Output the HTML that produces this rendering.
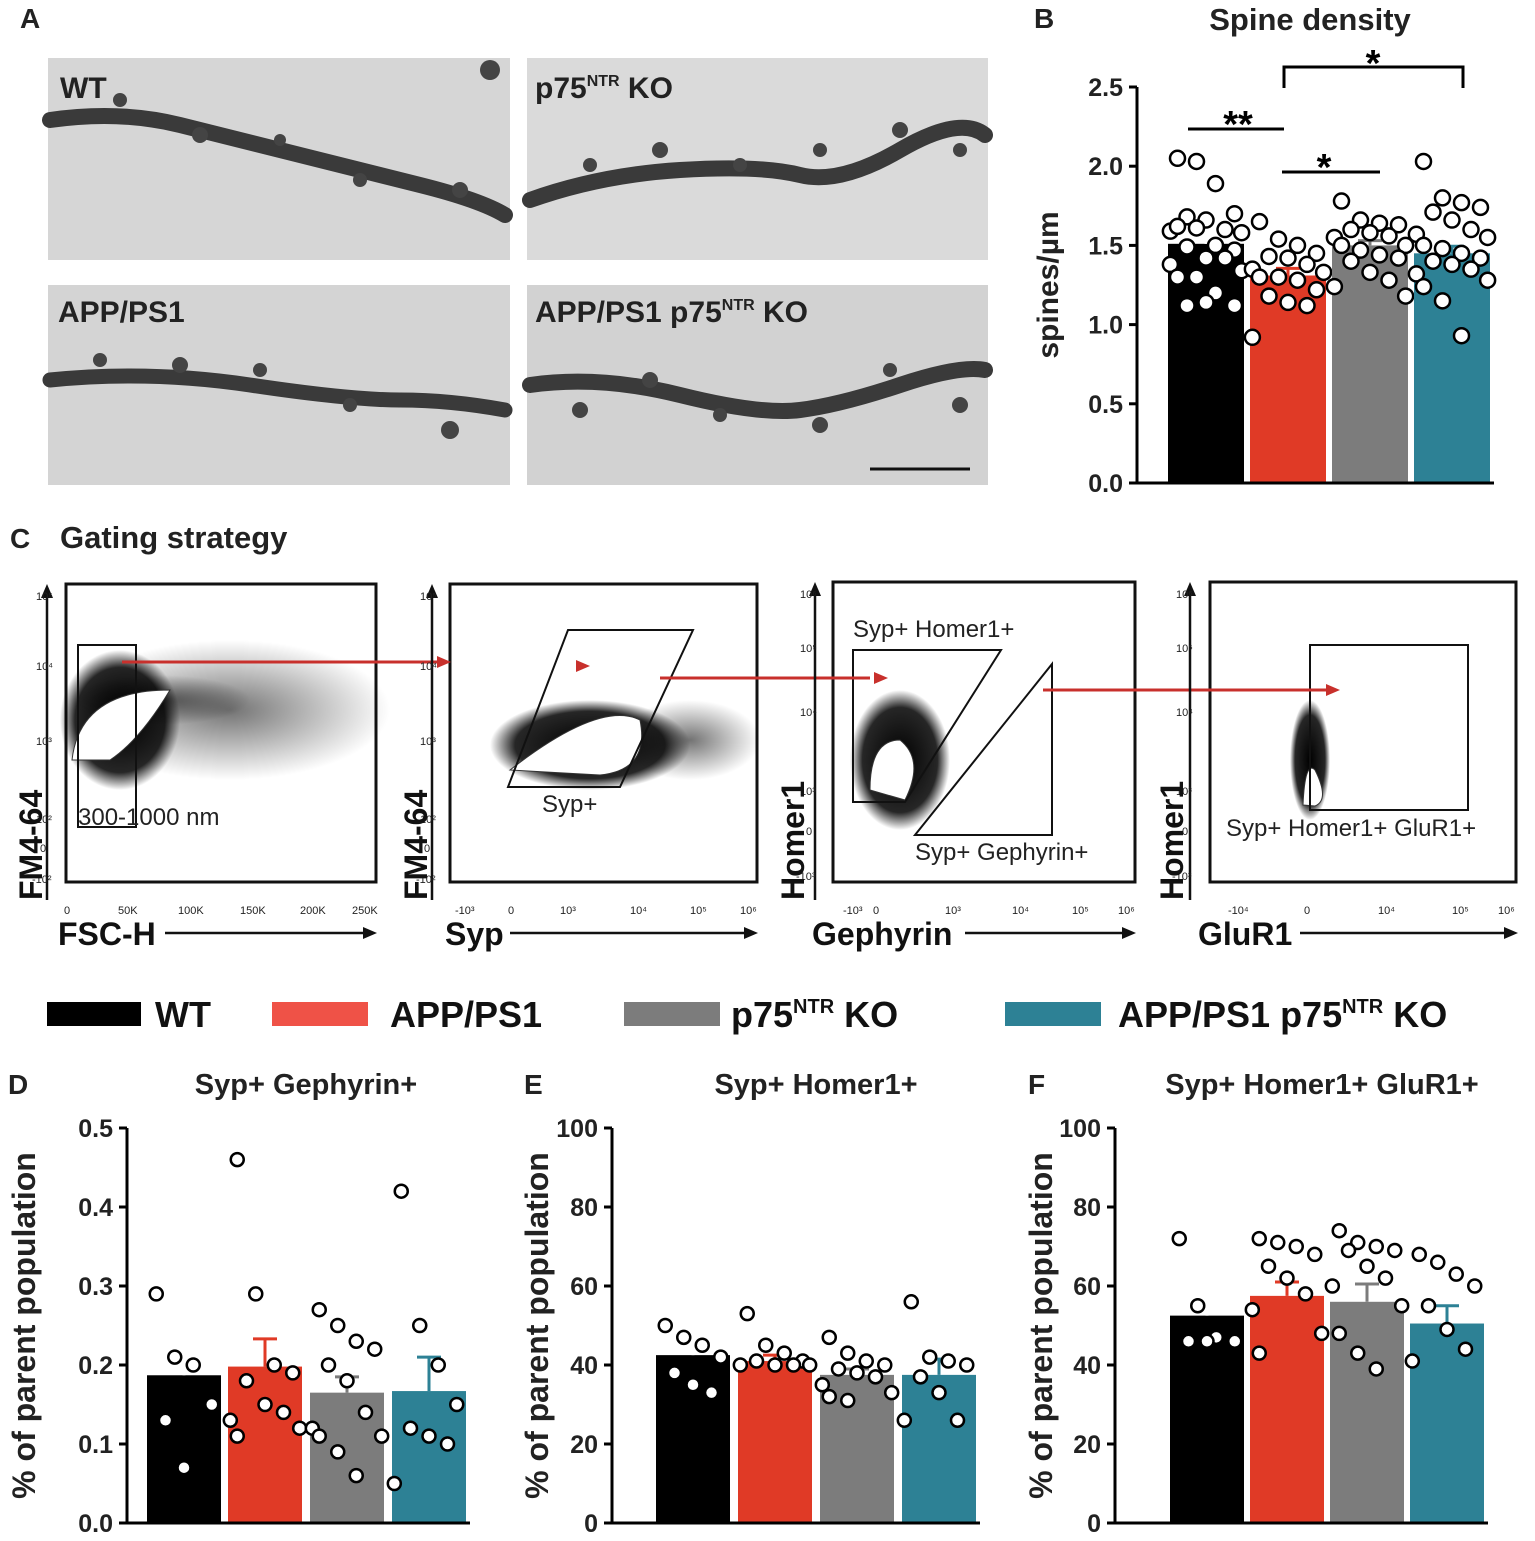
<!DOCTYPE html>
<html><head><meta charset="utf-8"><style>
body{margin:0;background:#fff;}
svg{display:block;font-family:"Liberation Sans",Arial,sans-serif;}
</style></head><body>
<svg id="fig" width="1535" height="1541" viewBox="0 0 1535 1541" xmlns="http://www.w3.org/2000/svg">
<defs>
<radialGradient id="blob"><stop offset="0" stop-color="#000" stop-opacity="1"/><stop offset="0.75" stop-color="#000" stop-opacity="0.85"/><stop offset="1" stop-color="#000" stop-opacity="0"/></radialGradient>
<radialGradient id="blobL"><stop offset="0" stop-color="#000" stop-opacity="0.55"/><stop offset="1" stop-color="#000" stop-opacity="0"/></radialGradient>
</defs>
<g font-weight="bold" font-size="28" fill="#222">
<text x="20" y="28">A</text>
<text x="1034" y="28">B</text>
<text x="10" y="548">C</text>
<text x="8" y="1094">D</text>
<text x="524" y="1094">E</text>
<text x="1028" y="1094">F</text>
</g>
<text x="60" y="548" font-size="31" font-weight="bold" fill="#222">Gating strategy</text>

<g>
<rect x="48" y="58" width="462" height="202" fill="#d6d6d6"/>
<rect x="527" y="58" width="461" height="202" fill="#dadada"/>
<rect x="48" y="285" width="462" height="200" fill="#d4d4d4"/>
<rect x="527" y="285" width="461" height="200" fill="#d2d2d2"/>
<g fill="none" stroke="#3a3a3a" stroke-linecap="round">
<path d="M50 120 Q120 110 180 125 T300 155 T420 185 T505 215" stroke-width="16"/>
<path d="M530 200 Q600 175 680 170 T800 175 T900 150 T985 135" stroke-width="16"/>
<path d="M50 380 Q150 370 250 385 T400 400 T505 410" stroke-width="15"/>
<path d="M530 385 Q600 375 680 395 T800 410 T900 385 T985 370" stroke-width="16"/>
</g>
<g fill="#444">
<circle cx="120" cy="100" r="7"/><circle cx="200" cy="135" r="8"/><circle cx="280" cy="140" r="6"/><circle cx="360" cy="180" r="7"/><circle cx="460" cy="190" r="8"/><circle cx="490" cy="70" r="10"/>
<circle cx="590" cy="165" r="7"/><circle cx="660" cy="150" r="8"/><circle cx="740" cy="165" r="7"/><circle cx="820" cy="150" r="7"/><circle cx="900" cy="130" r="8"/><circle cx="960" cy="150" r="7"/>
<circle cx="100" cy="360" r="7"/><circle cx="180" cy="365" r="8"/><circle cx="260" cy="370" r="7"/><circle cx="350" cy="405" r="7"/><circle cx="450" cy="430" r="9"/>
<circle cx="580" cy="410" r="8"/><circle cx="650" cy="380" r="8"/><circle cx="720" cy="415" r="7"/><circle cx="820" cy="425" r="8"/><circle cx="890" cy="370" r="7"/><circle cx="960" cy="405" r="8"/>
</g>
<g font-size="30" font-weight="bold" fill="#222">
<text x="60" y="98">WT</text>
<text x="535" y="98">p75<tspan font-size="16" dy="-12">NTR</tspan><tspan dy="12"> KO</tspan></text>
<text x="58" y="322">APP/PS1</text>
<text x="535" y="322">APP/PS1 p75<tspan font-size="16" dy="-12">NTR</tspan><tspan dy="12"> KO</tspan></text>
</g>
<line x1="870" y1="469" x2="970" y2="469" stroke="#111" stroke-width="3"/>
</g>

<g id="flow" fill="none" stroke="#111">
<rect x="66" y="584" width="310" height="298" stroke-width="3"/>
<rect x="450" y="584" width="307" height="298" stroke-width="3"/>
<rect x="833" y="582" width="302" height="300" stroke-width="3"/>
<rect x="1210" y="582" width="306" height="300" stroke-width="3"/>
<g stroke="none">
<ellipse cx="230" cy="710" rx="160" ry="70" fill="url(#blobL)"/>
<ellipse cx="120" cy="720" rx="60" ry="70" fill="url(#blob)"/>
<ellipse cx="160" cy="700" rx="90" ry="25" fill="url(#blobL)"/>
<ellipse cx="590" cy="745" rx="100" ry="45" fill="url(#blob)"/>
<ellipse cx="690" cy="740" rx="70" ry="40" fill="url(#blobL)"/>
<ellipse cx="900" cy="760" rx="50" ry="70" fill="url(#blob)"/>
<ellipse cx="1310" cy="760" rx="20" ry="60" fill="url(#blob)"/>
</g>
<g fill="#fff" stroke="#333" stroke-width="1">
<path d="M72 760 Q80 690 170 690 Q140 740 110 760 Z"/>
<path d="M510 770 Q600 700 640 720 Q650 770 600 775 Z"/>
<path d="M870 790 Q870 740 900 740 Q925 760 905 800 Z"/>
<path d="M1303 805 Q1305 760 1315 770 Q1330 800 1315 806 Z"/>
</g>
<path d="M78 645 H136 V827 H78 Z" stroke-width="2"/>
<path d="M568 630 L693 630 L620 787 L508 787 Z" stroke-width="2"/>
<path d="M853 650 L1001 650 L905 802 L853 802 Z" stroke-width="2"/>
<path d="M915 835 L1052 664 L1052 835 Z" stroke-width="2"/>
<rect x="1310" y="645" width="158" height="165" stroke-width="2"/>
<g stroke="#c8302c" stroke-width="3">
<path d="M122 662 H440"/><path d="M660 678 H870"/><path d="M1043 690 H1330"/>
</g>
<g fill="#c8302c" stroke="none">
<path d="M451 662 l-14 -6 v12 z"/><path d="M590 666 l-14 -6 v12 z"/><path d="M888 678 l-14 -6 v12 z"/><path d="M1340 690 l-14 -6 v12 z"/>
</g>
<g stroke-width="2.5">
<path d="M47 900 V592"/><path d="M432 900 V592"/><path d="M815 900 V590"/><path d="M1190 900 V590"/>
<path d="M165 933 H370"/><path d="M510 933 H750"/><path d="M965 933 H1128"/><path d="M1300 933 H1510"/>
</g>
<g fill="#111" stroke="none">
<path d="M47 584 l-6 14 h12 z"/><path d="M432 584 l-6 14 h12 z"/><path d="M815 582 l-6 14 h12 z"/><path d="M1190 582 l-6 14 h12 z"/>
<path d="M377 933 l-14 -6 v12 z"/><path d="M758 933 l-14 -6 v12 z"/><path d="M1136 933 l-14 -6 v12 z"/><path d="M1518 933 l-14 -6 v12 z"/>
</g>
<g fill="#222" stroke="none" font-size="24">
<text x="78" y="825">300-1000 nm</text>
<text x="542" y="812">Syp+</text>
<text x="853" y="637">Syp+ Homer1+</text>
<text x="915" y="860">Syp+ Gephyrin+</text>
<text x="1226" y="836">Syp+ Homer1+ GluR1+</text>
</g>
<g fill="#222" stroke="none" font-size="11">
<text x="64" y="914">0</text><text x="118" y="914">50K</text><text x="178" y="914">100K</text><text x="240" y="914">150K</text><text x="300" y="914">200K</text><text x="352" y="914">250K</text>
<text x="36" y="600">10⁵</text><text x="36" y="670">10⁴</text><text x="36" y="745">10³</text><text x="36" y="823">10²</text><text x="40" y="852">0</text><text x="32" y="883">-10²</text>
<text x="420" y="600">10⁵</text><text x="420" y="670">10⁴</text><text x="420" y="745">10³</text><text x="420" y="823">10²</text><text x="424" y="852">0</text><text x="416" y="883">-10²</text>
<text x="455" y="914">-10³</text><text x="508" y="914">0</text><text x="560" y="914">10³</text><text x="630" y="914">10⁴</text><text x="690" y="914">10⁵</text><text x="740" y="914">10⁶</text>
<text x="800" y="598">10⁶</text><text x="800" y="652">10⁵</text><text x="800" y="716">10⁴</text><text x="800" y="795">10³</text><text x="806" y="835">0</text><text x="796" y="880">-10³</text>
<text x="843" y="914">-10³</text><text x="873" y="914">0</text><text x="945" y="914">10³</text><text x="1012" y="914">10⁴</text><text x="1072" y="914">10⁵</text><text x="1118" y="914">10⁶</text>
<text x="1176" y="598">10⁶</text><text x="1176" y="652">10⁵</text><text x="1176" y="716">10⁴</text><text x="1176" y="795">10³</text><text x="1182" y="835">0</text><text x="1172" y="880">-10³</text>
<text x="1228" y="914">-10⁴</text><text x="1304" y="914">0</text><text x="1378" y="914">10⁴</text><text x="1452" y="914">10⁵</text><text x="1498" y="914">10⁶</text>
</g>
<g fill="#111" stroke="none" font-size="32" font-weight="bold">
<text x="58" y="945">FSC-H</text><text x="445" y="945">Syp</text><text x="812" y="945">Gephyrin</text><text x="1198" y="945">GluR1</text>
<text transform="translate(42,900) rotate(-90)">FM4-64</text>
<text transform="translate(427,900) rotate(-90)">FM4-64</text>
<text transform="translate(804,900) rotate(-90)">Homer1</text>
<text transform="translate(1183,900) rotate(-90)">Homer1</text>
</g>
</g>

<g font-size="36" font-weight="bold" fill="#111">
<rect x="47" y="1002" width="94" height="24" fill="#000"/>
<text x="155" y="1027">WT</text>
<rect x="272" y="1002" width="96" height="24" fill="#ef5247"/>
<text x="390" y="1027">APP/PS1</text>
<rect x="624" y="1002" width="96" height="24" fill="#7c7c7c"/>
<text x="731" y="1027">p75<tspan font-size="20" dy="-14">NTR</tspan><tspan dy="14"> KO</tspan></text>
<rect x="1005" y="1002" width="96" height="24" fill="#2d8195"/>
<text x="1118" y="1027">APP/PS1 p75<tspan font-size="20" dy="-14">NTR</tspan><tspan dy="14"> KO</tspan></text>
</g>
<g id="charts"></g>
</svg>
<script>
// Panel B data
const bTicks=["0.0","0.5","1.0","1.5","2.0","2.5"];
const bMeans=[1.51,1.31,1.50,1.45];
const bErr=[0.04,0.045,0.03,0.045];
const bPtsWT=[2.05,2.03,1.89,1.70,1.68,1.66,1.60,1.59,1.58,1.62,1.61,1.50,1.47,1.49,1.42,1.42,1.38,1.34,1.30,1.30,1.20,1.12,1.12,1.14];
const bPtsAPP=[1.65,1.54,1.50,1.45,1.43,1.42,1.38,1.35,1.33,1.30,1.30,1.28,1.22,1.18,1.14,1.12,0.92];
const bPtsP75=[1.78,1.66,1.64,1.63,1.60,1.58,1.56,1.55,1.50,1.50,1.47,1.44,1.42,1.40,1.33,1.28,1.24,1.18];
const bPtsDK=[2.03,1.80,1.77,1.74,1.71,1.66,1.60,1.57,1.55,1.50,1.48,1.45,1.42,1.40,1.38,1.35,1.32,1.28,1.24,1.15,0.93];
// Panel D
const dTicks=["0.0","0.1","0.2","0.3","0.4","0.5"];
const dMeans=[0.187,0.198,0.165,0.167];
const dErr=[0.025,0.035,0.02,0.043];
const dPtsWT=[0.29,0.21,0.20,0.15,0.13,0.07];
const dPtsAPP=[0.46,0.29,0.20,0.19,0.18,0.15,0.14,0.13,0.12,0.11];
const dPtsP75=[0.27,0.25,0.23,0.22,0.20,0.18,0.14,0.12,0.11,0.11,0.09,0.06];
const dPtsDK=[0.42,0.25,0.20,0.15,0.12,0.11,0.10,0.05];
// Panel E
const eTicks=["0","20","40","60","80","100"];
const eMeans=[42.5,41,37.5,37.5];
const eErr=[2.5,1.5,1.5,4];
const ePtsWT=[50,47,45,42,38,35,33];
const ePtsAPP=[53,45,43,41,41,40,40,40,40];
const ePtsP75=[47,43,41,40,39,38,37,35,33,32,31];
const ePtsDK=[56,42,41,40,37,33,26,26];
// Panel F
const fTicks=["0","20","40","60","80","100"];
const fMeans=[52.5,57.5,56,50.5];
const fErr=[4,3.5,4.5,4.5];
const fPtsWT=[72,55,47,46,46,46];
const fPtsAPP=[72,71,70,68,65,62,58,54,48,43];
const fPtsP75=[74,71,70,69,69,65,62,60,55,48,43,39];
const fPtsDK=[68,66,63,60,55,49,44,41];

const NS="http://www.w3.org/2000/svg";
const root=document.getElementById('charts');
const colors=["#000","#e03a26","#7c7c7c","#2d8195"];
const names=["wt","app-ps1","p75-ko","app-ps1-p75-ko"];
function mk(tag,attrs,parent){const e=document.createElementNS(NS,tag);for(const k in attrs)e.setAttribute(k,attrs[k]);(parent||root).appendChild(e);return e;}

function chart(cfg){
  const g=mk('g',{});
  
  
  const y=v=>cfg.y0-(v/cfg.max)*(cfg.y0-cfg.y1);
  cfg.means.forEach((m,i)=>{
    const bx=cfg.bx[i];
    const r=mk('rect',{x:bx,y:y(m),width:cfg.bw,height:cfg.y0-y(m),fill:colors[i]},g);
    
    
    const cx=bx+cfg.bw/2;
    const eb=mk('path',{d:`M${cx} ${y(m)} V${y(m+cfg.err[i])} M${cx-12} ${y(m+cfg.err[i])} H${cx+12}`,stroke:i==0?"#fff":colors[i],'stroke-width':3,fill:'none'},g);
    
    
    const offs=[-24,-8,8,24,-16,0,16,-30,30];
    cfg.pts[i].forEach((v,j)=>{
      const c=mk('circle',{cx:cx+offs[j%offs.length]*cfg.bw/64,cy:y(v),r:cfg.pr,fill:'#fff',stroke:'#000','stroke-width':2.5},g);
      
      
    });
  });
  const ax=mk('path',{d:`M${cfg.ax} ${cfg.y1} V${cfg.y0} H${cfg.bx[3]+cfg.bw+4}`,stroke:'#000','stroke-width':3,fill:'none'},g);
  
  
  cfg.ticks.forEach((t,k)=>{
    const v=k*cfg.max/(cfg.ticks.length-1);
    mk('line',{x1:cfg.ax-8,x2:cfg.ax,y1:y(v),y2:y(v),stroke:'#000','stroke-width':3},g);
    const tx=mk('text',{x:cfg.ax-14,y:y(v)+9,'text-anchor':'end','font-size':25,'font-weight':'bold',fill:'#222'},g);
    tx.textContent=t;
    
    
  });
  const yl=mk('text',{transform:`translate(${cfg.ylx},${(cfg.y0+cfg.y1)/2}) rotate(-90)`,'text-anchor':'middle','font-size':cfg.ylfs,'font-weight':'bold',fill:'#222'},g);
  yl.textContent=cfg.ylabel;
  
  
  const tt=mk('text',{x:cfg.tx,y:cfg.ty,'text-anchor':'middle','font-size':cfg.tfs,'font-weight':'bold',fill:'#222'},g);
  tt.textContent=cfg.title;
  
  
  return y;
}
chart({name:'spine-density-chart',y0:483,y1:87,max:2.5,ax:1137,bx:[1168,1250,1332,1414],bw:76,means:bMeans,err:bErr,pts:[bPtsWT,bPtsAPP,bPtsP75,bPtsDK],pr:7.5,ticks:bTicks,ylabel:'spines/µm',ylx:1058,ylfs:30,title:'Spine density',tx:1310,ty:30,tfs:31});
chart({name:'gephyrin-chart',y0:1523,y1:1128,max:0.5,ax:127,bx:[147,228,310,392],bw:74,means:dMeans,err:dErr,pts:[dPtsWT,dPtsAPP,dPtsP75,dPtsDK],pr:6.5,ticks:dTicks,ylabel:'% of parent population',ylx:35,ylfs:32,title:'Syp+ Gephyrin+',tx:306,ty:1094,tfs:29});
chart({name:'homer1-chart',y0:1523,y1:1128,max:100,ax:612,bx:[656,738,820,902],bw:74,means:eMeans,err:eErr,pts:[ePtsWT,ePtsAPP,ePtsP75,ePtsDK],pr:6.5,ticks:eTicks,ylabel:'% of parent population',ylx:548,ylfs:32,title:'Syp+ Homer1+',tx:816,ty:1094,tfs:29});
chart({name:'glur1-chart',y0:1523,y1:1128,max:100,ax:1115,bx:[1170,1250,1330,1410],bw:74,means:fMeans,err:fErr,pts:[fPtsWT,fPtsAPP,fPtsP75,fPtsDK],pr:6.5,ticks:fTicks,ylabel:'% of parent population',ylx:1052,ylfs:32,title:'Syp+ Homer1+ GluR1+',tx:1322,ty:1094,tfs:29});
const sig=mk('g',{stroke:'#000','stroke-width':3,fill:'none'});


mk('path',{d:'M1188 129 H1284'},sig);
mk('path',{d:'M1282 172 H1380'},sig);
mk('path',{d:'M1284 88 V67 H1463 V88'},sig);
[[1238,123,'**'],[1324,166,'*'],[1373,62,'*']].forEach(s=>{const t=mk('text',{x:s[0],y:s[1]+14,'text-anchor':'middle','font-size':38,'font-weight':'bold',fill:'#000'});t.textContent=s[2];

});
</script>
</body></html>
